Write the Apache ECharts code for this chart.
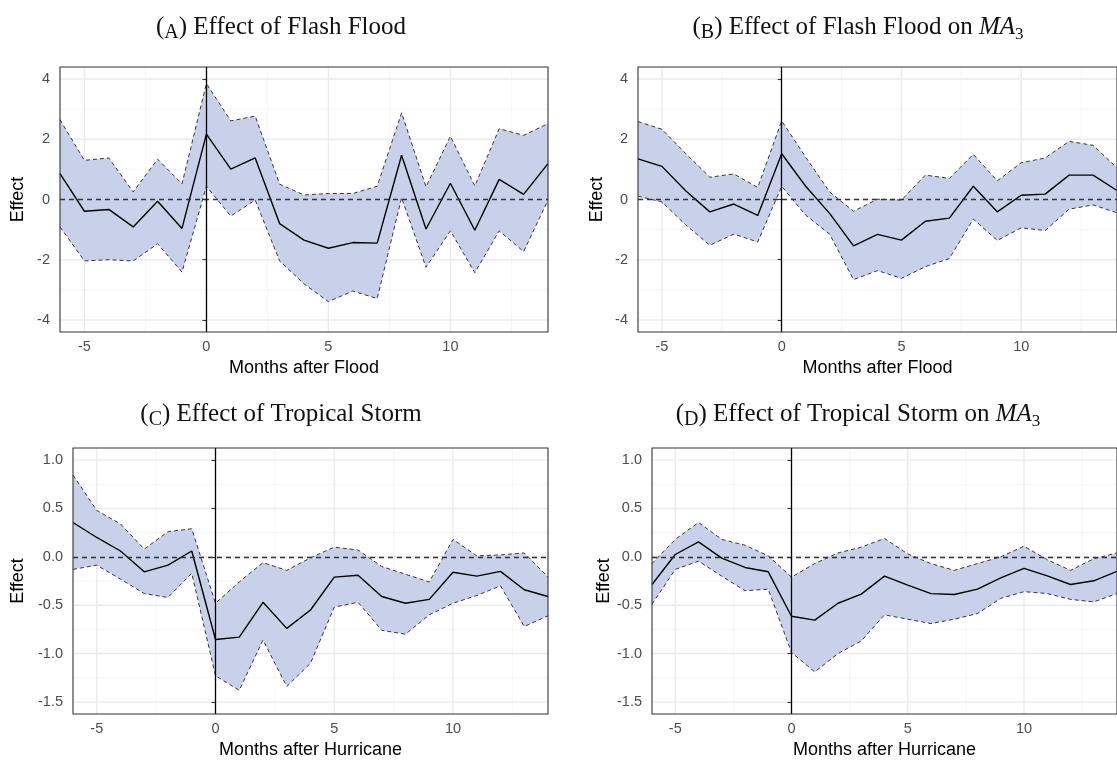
<!DOCTYPE html>
<html>
<head>
<meta charset="utf-8">
<script src="https://cdn.jsdelivr.net/npm/echarts@6/dist/echarts.min.js"></script>
<style>
  html, body { margin: 0; padding: 0; background: #ffffff; }
  #chart { width: 1117px; height: 760px; }
</style>
</head>
<body>
<div id="chart"></div>
<script>
// Event-study estimates with confidence bands, months relative to the event
const months = [-6, -5, -4, -3, -2, -1, 0, 1, 2, 3, 4, 5, 6, 7, 8, 9, 10, 11, 12, 13, 14];

// (A) Flash flood
const floodEst = [0.86, -0.39, -0.33, -0.91, -0.06, -0.96, 2.17, 1.01, 1.38, -0.80, -1.35, -1.62, -1.43, -1.45, 1.47, -0.98, 0.54, -1.02, 0.67, 0.17, 1.19];
const floodHi  = [2.65, 1.30, 1.38, 0.25, 1.34, 0.52, 3.85, 2.61, 2.77, 0.51, 0.15, 0.20, 0.20, 0.44, 2.88, 0.42, 2.10, 0.45, 2.35, 2.13, 2.52];
const floodLo  = [-0.91, -2.04, -2.00, -2.04, -1.47, -2.41, 0.44, -0.55, -0.02, -2.04, -2.80, -3.39, -3.04, -3.29, 0.06, -2.25, -1.04, -2.43, -1.04, -1.73, -0.02];

// (B) Flash flood, three-month moving average
const floodMaEst = [1.35, 1.10, 0.28, -0.41, -0.15, -0.53, 1.52, 0.44, -0.46, -1.54, -1.16, -1.35, -0.72, -0.62, 0.44, -0.41, 0.14, 0.18, 0.81, 0.81, 0.30];
const floodMaHi  = [2.59, 2.33, 1.52, 0.74, 0.85, 0.40, 2.61, 1.41, 0.25, -0.39, 0.01, -0.02, 0.81, 0.70, 1.50, 0.62, 1.22, 1.38, 1.93, 1.80, 1.05];
const floodMaLo  = [0.11, -0.08, -0.85, -1.52, -1.15, -1.41, 0.44, -0.52, -1.15, -2.66, -2.36, -2.62, -2.23, -1.96, -0.65, -1.36, -0.94, -1.03, -0.32, -0.18, -0.44];

// (C) Tropical storm
const stormEst = [0.355, 0.20, 0.06, -0.155, -0.086, 0.06, -0.855, -0.83, -0.47, -0.74, -0.55, -0.21, -0.19, -0.41, -0.48, -0.44, -0.16, -0.20, -0.15, -0.34, -0.41];
const stormHi  = [0.845, 0.48, 0.34, 0.08, 0.26, 0.29, -0.48, -0.26, -0.06, -0.14, -0.01, 0.10, 0.07, -0.10, -0.18, -0.26, 0.18, 0.01, 0.02, 0.04, -0.21];
const stormLo  = [-0.13, -0.086, -0.23, -0.38, -0.42, -0.17, -1.23, -1.38, -0.86, -1.34, -1.10, -0.52, -0.47, -0.76, -0.80, -0.60, -0.48, -0.40, -0.30, -0.72, -0.61];

// (D) Tropical storm, three-month moving average
const stormMaEst = [-0.286, 0.024, 0.155, -0.014, -0.11, -0.155, -0.614, -0.655, -0.48, -0.386, -0.20, -0.293, -0.38, -0.39, -0.334, -0.217, -0.12, -0.197, -0.286, -0.248, -0.15];
const stormMaHi  = [-0.07, 0.18, 0.355, 0.18, 0.12, 0.01, -0.21, -0.07, 0.04, 0.10, 0.19, 0.03, -0.07, -0.14, -0.07, 0.0, 0.11, -0.03, -0.14, -0.02, 0.04];
const stormMaLo  = [-0.49, -0.13, -0.045, -0.20, -0.35, -0.335, -0.99, -1.19, -1.00, -0.87, -0.60, -0.645, -0.69, -0.645, -0.586, -0.43, -0.36, -0.38, -0.44, -0.466, -0.38];

// Axis breaks
const monthTicks = [-5, 0, 5, 10];
const monthMinor = [-2.5, 2.5, 7.5, 12.5];
const floodTicks = [-4, -2, 0, 2, 4];
const floodMinor = [-3, -1, 1, 3];
const stormTicks = [-1.5, -1.0, -0.5, 0.0, 0.5, 1.0];
const stormMinor = [-1.25, -0.75, -0.25, 0.25, 0.75];

// Captions
const captions = [
  '({sc|A}) Effect of Flash Flood',
  '({sc|B}) Effect of Flash Flood on {it|MA}{sub|3}',
  '({sc|C}) Effect of Tropical Storm',
  '({sc|D}) Effect of Tropical Storm on {it|MA}{sub|3}'
];
const xTitles = ['Months after Flood', 'Months after Flood', 'Months after Hurricane', 'Months after Hurricane'];
const yTitle = 'Effect';

const SANS = '"Liberation Sans", Arial, Helvetica, sans-serif';
const SERIF = '"Liberation Serif", "Times New Roman", serif';
const BAND_FILL = '#c9d1ea';

const panels = [
  { grid: { left: 60,  top: 67,  width: 488, height: 265 }, caption: { x: 276, y: 7 },   est: floodEst,   hi: floodHi,   lo: floodLo,   yMin: -4.4,   yMax: 4.4,   ticks: floodTicks, minor: floodMinor, digits: 0, yGap: 33 },
  { grid: { left: 638, top: 67,  width: 488, height: 265 }, caption: { x: 853, y: 7 },   est: floodMaEst, hi: floodMaHi, lo: floodMaLo, yMin: -4.4,   yMax: 4.4,   ticks: floodTicks, minor: floodMinor, digits: 0, yGap: 32 },
  { grid: { left: 73,  top: 448, width: 475, height: 266 }, caption: { x: 276, y: 394 }, est: stormEst,   hi: stormHi,   lo: stormLo,   yMin: -1.625, yMax: 1.125, ticks: stormTicks, minor: stormMinor, digits: 1, yGap: 46 },
  { grid: { left: 652, top: 448, width: 473, height: 266 }, caption: { x: 853, y: 394 }, est: stormMaEst, hi: stormMaHi, lo: stormMaLo, yMin: -1.625, yMax: 1.125, ticks: stormTicks, minor: stormMinor, digits: 1, yGap: 35 }
];

const pairs = (ys) => months.map((m, i) => [m, ys[i]]);

function gridLineData(p) {
  const d = [];
  monthMinor.forEach(v => d.push([v, 0, 0, 0]));
  p.minor.forEach(v => d.push([0, v, 1, 0]));
  monthTicks.forEach(v => d.push([v, 0, 0, 1]));
  p.ticks.forEach(v => d.push([0, v, 1, 1]));
  return d;
}

function renderGridLine(params, api) {
  const cs = params.coordSys;
  const pt = api.coord([api.value(0), api.value(1)]);
  const vertical = api.value(2) === 0;
  const major = api.value(3) === 1;
  const shape = vertical
    ? { x1: pt[0], y1: cs.y, x2: pt[0], y2: cs.y + cs.height }
    : { x1: cs.x, y1: pt[1], x2: cs.x + cs.width, y2: pt[1] };
  return {
    type: 'line',
    shape: shape,
    style: { stroke: major ? '#ebebeb' : '#f3f3f3', lineWidth: major ? 1.4 : 0.8 }
  };
}

// Confidence band: one polygon through the upper bounds and back along the lower bounds
function renderBand(params, api) {
  if (params.dataIndexInside !== 0) return { type: 'group', children: [] };
  const n = params.dataInsideLength;
  const upper = [], lower = [];
  for (let j = 0; j < n; j++) {
    const x = api.value(0, j);
    upper.push(api.coord([x, api.value(2, j)]));
    lower.push(api.coord([x, api.value(1, j)]));
  }
  return {
    type: 'polygon',
    shape: { points: upper.concat(lower.reverse()) },
    style: { fill: BAND_FILL, stroke: null }
  };
}

function renderFrame(params) {
  const cs = params.coordSys;
  return {
    type: 'rect',
    shape: { x: cs.x, y: cs.y, width: cs.width, height: cs.height },
    style: { fill: null, stroke: '#333333', lineWidth: 1.1 }
  };
}

const titleRich = {
  sc:  { fontFamily: SERIF, fontSize: 20, color: '#111', verticalAlign: 'bottom', lineHeight: 28 },
  it:  { fontFamily: SERIF, fontSize: 25, fontStyle: 'italic', color: '#111', lineHeight: 31 },
  sub: { fontFamily: SERIF, fontSize: 17, color: '#111', verticalAlign: 'bottom', lineHeight: 16 }
};

const option = {
  animation: false,
  backgroundColor: '#ffffff',
  title: [], grid: [], xAxis: [], yAxis: [], series: []
};

panels.forEach((p, k) => {
  option.title.push({
    text: captions[k],
    left: p.caption.x,
    top: p.caption.y,
    textAlign: 'center',
    textStyle: { fontFamily: SERIF, fontSize: 25, fontWeight: 'normal', color: '#111', lineHeight: 31, rich: titleRich }
  });
  option.grid.push(Object.assign({ show: false }, p.grid));
  option.xAxis.push({
    gridIndex: k, type: 'value', min: -6, max: 14,
    name: xTitles[k], nameLocation: 'middle', nameGap: 27,
    nameTextStyle: { fontFamily: SANS, fontSize: 18, color: '#000' },
    axisLine: { show: false },
    splitLine: { show: false },
    axisTick: { show: true, customValues: monthTicks, length: 4, lineStyle: { color: '#333', width: 1.1 } },
    axisLabel: { customValues: monthTicks, fontFamily: SANS, fontSize: 14.5, color: '#4d4d4d', margin: 7 }
  });
  option.yAxis.push({
    gridIndex: k, type: 'value', min: p.yMin, max: p.yMax,
    name: yTitle, nameLocation: 'middle', nameGap: p.yGap,
    nameTextStyle: { fontFamily: SANS, fontSize: 18, color: '#000' },
    axisLine: { show: false },
    splitLine: { show: false },
    axisTick: { show: true, customValues: p.ticks, length: 4, lineStyle: { color: '#333', width: 1.1 } },
    axisLabel: {
      customValues: p.ticks, fontFamily: SANS, fontSize: 14.5, color: '#4d4d4d', margin: 10,
      formatter: (v) => Number(v).toFixed(p.digits)
    }
  });

  option.series.push(
    {
      type: 'custom', xAxisIndex: k, yAxisIndex: k, z: 0, silent: true,
      renderItem: renderGridLine, data: gridLineData(p)
    },
    {
      type: 'custom', xAxisIndex: k, yAxisIndex: k, z: 1, silent: true,
      encode: { x: 0, y: [1, 2] },
      renderItem: renderBand,
      data: months.map((m, i) => [m, p.lo[i], p.hi[i]])
    },
    {
      type: 'line', xAxisIndex: k, yAxisIndex: k, z: 2, silent: true, symbol: 'none',
      lineStyle: { color: '#222', width: 0.9, type: [4, 3] }, data: pairs(p.hi)
    },
    {
      type: 'line', xAxisIndex: k, yAxisIndex: k, z: 2, silent: true, symbol: 'none',
      lineStyle: { color: '#222', width: 0.9, type: [4, 3] }, data: pairs(p.lo)
    },
    {
      type: 'line', xAxisIndex: k, yAxisIndex: k, z: 3, silent: true, symbol: 'none',
      lineStyle: { color: '#000', width: 1.4 }, data: pairs(p.est),
      markLine: {
        silent: true, symbol: 'none', label: { show: false },
        data: [
          { yAxis: 0, lineStyle: { color: '#333', width: 1.3, type: [5, 4] } },
          { xAxis: 0, lineStyle: { color: '#000', width: 1.3, type: 'solid' } }
        ]
      }
    },
    {
      type: 'custom', xAxisIndex: k, yAxisIndex: k, z: 5, silent: true,
      renderItem: renderFrame, data: [[0, 0]]
    }
  );
});

const chart = echarts.init(document.getElementById('chart'), null, { renderer: 'canvas' });
chart.setOption(option);
</script>
</body>
</html>
